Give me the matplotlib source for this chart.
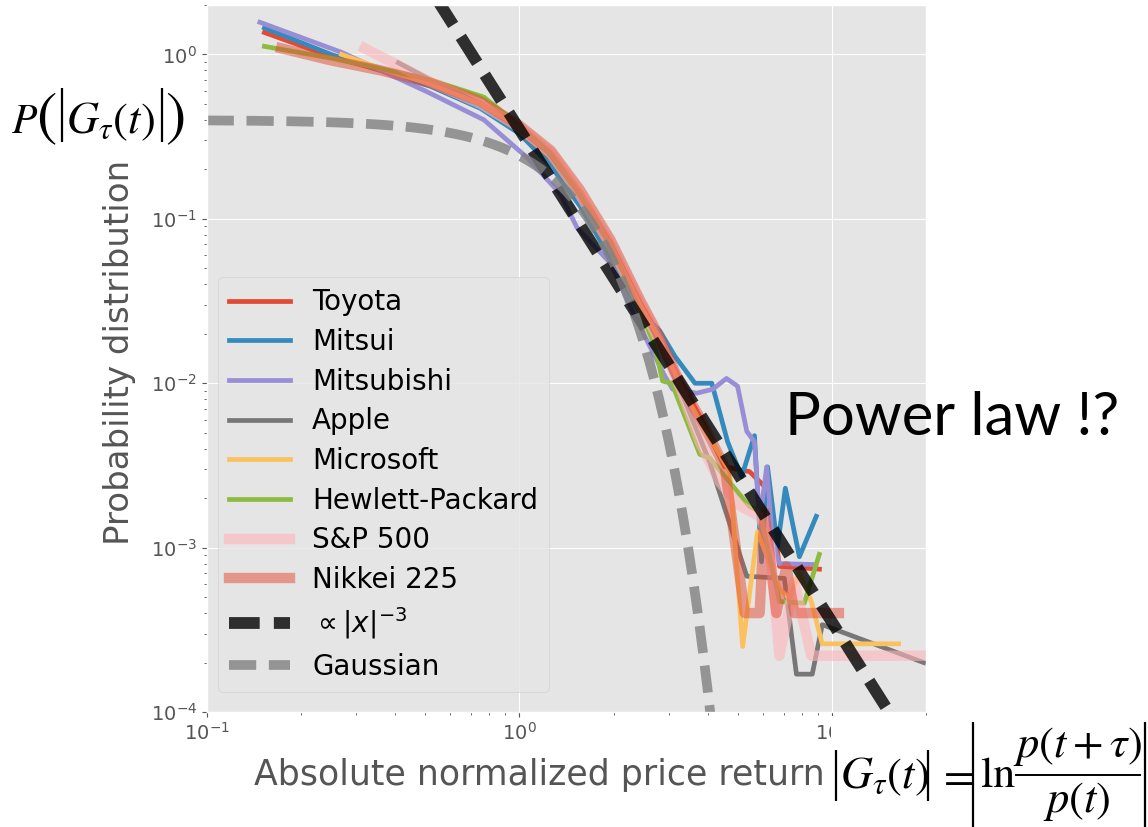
"""Return distributions of stocks and indices vs. power law and Gaussian."""
import matplotlib
matplotlib.use("Agg")
import matplotlib.pyplot as plt
from matplotlib.lines import Line2D
import numpy as np

# empirical distributions, one (x, P) pair of lists per asset
toyota_x = [0.153, 0.25, 0.36, 0.52, 0.75, 1.0, 1.26, 1.56, 1.95, 2.43, 2.81, 3.26, 3.77, 4.53, 5.44, 6.3, 6.78, 9.1]
toyota_y = [1.36, 0.97, 0.80, 0.66, 0.50, 0.36, 0.25, 0.145, 0.072, 0.031, 0.019, 0.0105, 0.0063, 0.0031, 0.0029, 0.0022, 0.00077, 0.00074]

mitsui_x = [0.153, 0.25, 0.36, 0.52, 0.75, 1.0, 1.26, 1.56, 1.95, 2.43, 2.81, 3.14, 3.64, 4.12, 4.63, 5.13, 5.64, 5.94, 6.21, 6.68, 7.08, 7.85, 8.89]
mitsui_y = [1.45, 1.0, 0.80, 0.64, 0.47, 0.33, 0.21, 0.12, 0.058, 0.027, 0.0208, 0.0146, 0.0100, 0.0100, 0.0044, 0.0027, 0.0048, 0.00082, 0.0031, 0.00101, 0.0023, 0.00088, 0.00155]

mitsubishi_x = [0.148, 0.27, 0.5, 0.77, 1.06, 1.35, 1.53, 1.95, 2.43, 2.92, 3.09, 3.69, 4.15, 4.59, 4.98, 5.33, 5.64, 5.86, 6.17, 6.44, 6.78, 8.63]
mitsubishi_y = [1.57, 1.03, 0.60, 0.40, 0.235, 0.142, 0.088, 0.054, 0.022, 0.011, 0.0092, 0.0087, 0.0092, 0.0107, 0.0096, 0.0051, 0.0044, 0.00144, 0.0031, 0.00109, 0.0008, 0.00079]

apple_x = [0.41, 0.52, 0.75, 1.0, 1.26, 1.56, 1.95, 2.43, 2.81, 3.38, 4.06, 5.33, 7.03, 7.68, 8.63, 9.29, 19.6]
apple_y = [0.89, 0.70, 0.50, 0.34, 0.23, 0.13, 0.063, 0.028, 0.0168, 0.0078, 0.0033, 0.00067, 0.00065, 0.00017, 0.00017, 0.00034, 0.0002]

microsoft_x = [0.27, 0.36, 0.52, 0.75, 1.0, 1.26, 1.56, 1.95, 2.43, 2.81, 3.26, 3.77, 4.70, 5.17, 5.77, 6.78, 7.30, 7.85, 8.57, 9.29, 16.3]
microsoft_y = [1.0, 0.82, 0.66, 0.50, 0.36, 0.25, 0.145, 0.07, 0.030, 0.0185, 0.0098, 0.0059, 0.0029, 0.00025, 0.00125, 0.00056, 0.00049, 0.00071, 0.00047, 0.00026, 0.00026]

hp_x = [0.153, 0.25, 0.36, 0.52, 0.77, 1.0, 1.26, 1.56, 1.95, 2.43, 2.71, 2.87, 3.07, 3.77, 4.06, 5.44, 5.86, 6.78, 8.14, 9.09]
hp_y = [1.12, 0.95, 0.82, 0.70, 0.55, 0.37, 0.25, 0.14, 0.07, 0.0275, 0.0168, 0.0103, 0.0100, 0.0037, 0.0035, 0.00178, 0.00166, 0.00047, 0.00046, 0.00091]

sp500_x = [0.32, 0.52, 0.75, 1.0, 1.26, 1.56, 1.95, 2.43, 2.81, 3.26, 3.77, 4.37, 5.06, 5.86, 6.3, 6.78, 7.57, 8.57, 19.6]
sp500_y = [1.09, 0.68, 0.50, 0.36, 0.25, 0.14, 0.07, 0.03, 0.018, 0.0095, 0.0044, 0.0025, 0.0018, 0.00155, 0.0011, 0.00022, 0.00062, 0.00022, 0.00022]

nikkei_x = [0.173, 0.25, 0.36, 0.52, 0.75, 1.0, 1.26, 1.56, 1.95, 2.43, 2.81, 3.26, 3.77, 4.53, 5.25, 5.86, 6.07, 6.63, 7.13, 7.57, 10.5]
nikkei_y = [1.09, 0.92, 0.80, 0.67, 0.52, 0.37, 0.26, 0.15, 0.075, 0.032, 0.019, 0.010, 0.0062, 0.0031, 0.0004, 0.0004, 0.00166, 0.0004, 0.00077, 0.0004, 0.0004]

# reference curves: P ~ C |x|^-3 and the standard normal density
POWER_COEF = 0.35
POWER_EXP = -3

W, H = 1148, 827

plt.style.use("ggplot")
plt.rcParams["font.family"] = ["DejaVu Sans"]

fig = plt.figure(figsize=(W / 100, H / 100), dpi=100)
ax = fig.add_axes([0.180, 0.139, 0.627, 0.855])

stocks = [
    ("Toyota", toyota_x, toyota_y, "#E24A33"),
    ("Mitsui", mitsui_x, mitsui_y, "#348ABD"),
    ("Mitsubishi", mitsubishi_x, mitsubishi_y, "#988ED5"),
    ("Apple", apple_x, apple_y, "#777777"),
    ("Microsoft", microsoft_x, microsoft_y, "#FBC15E"),
    ("Hewlett-Packard", hp_x, hp_y, "#8EBA42"),
]
for name, xs, ys, c in stocks:
    ax.plot(xs, ys, color=c, lw=3.4, label=name)

ax.plot(sp500_x, sp500_y, color="#FFB5B8", lw=7.5, alpha=0.6, label="S&P 500")
ax.plot(nikkei_x, nikkei_y, color="#E24A33", lw=7.5, alpha=0.5, label="Nikkei 225")

xx = np.logspace(-1, np.log10(20), 300)
ax.plot(xx, POWER_COEF * xx ** POWER_EXP, color="k", alpha=0.8, lw=8.5,
        dashes=(2.6, 1.2), label=r"$\propto |x|^{-3}$")
ax.plot(xx, np.exp(-xx ** 2 / 2) / np.sqrt(2 * np.pi), color="gray", alpha=0.8,
        lw=7, dashes=(2.8, 1.3), label="Gaussian")

ax.set_xscale("log")
ax.set_yscale("log")
ax.set_xlim(0.1, 20)
ax.set_ylim(1e-4, 2)
ax.tick_params(labelsize=14, colors="#555555")

leg = ax.legend(loc="lower left", bbox_to_anchor=(0.0153, 0.028), borderaxespad=0,
                fontsize=20, handlelength=2.2, labelspacing=0.42)
for t in leg.get_texts():
    t.set_color("black")

fig.text(120 / W, 1 - 352 / H, "Probability distribution", rotation=90,
         ha="center", va="center", fontsize=24.5, color="#555555")
fig.text(539 / W, 1 - 775 / H, "Absolute normalized price return",
         ha="center", va="center", fontsize=25, color="#555555")
fig.text(785 / W, 1 - 418 / H, "Power law !?", ha="left", va="center",
         fontsize=43, family="Lato", color="black")


# --- typeset formulas, placed in pixel units ------------------------------
def put(px, py, s, size=32, ha="left", va="baseline"):
    fig.text(px / W, 1 - py / H, s, ha=ha, va=va, fontsize=size,
             math_fontfamily="stix", zorder=6)


def vbar(px, py0, py1, lw=1.6):
    fig.add_artist(Line2D([px / W, px / W], [1 - py0 / H, 1 - py1 / H],
                          transform=fig.transFigure, color="black", lw=lw,
                          solid_capstyle="butt", zorder=6))


# P(|G_tau(t)|) next to the y axis
put(11, 133, r"$P$", size=30)
put(46, 117.5, r"$($", size=44, ha="center", va="center")
vbar(62, 88, 142)
put(66, 133, r"$G_{\tau}(t)$")
vbar(162, 88, 142)
put(175, 117.5, r"$)$", size=44, ha="center", va="center")

# |G_tau(t)| = |ln p(t+tau)/p(t)| under the right end of the x axis
fig.patches.append(plt.Rectangle((831 / W, 0), 1 - 831 / W, 1 - 716 / H,
                                 transform=fig.transFigure, facecolor="white",
                                 edgecolor="none", zorder=5))
vbar(836, 750, 801)
put(840, 788, r"$G_{\tau}(t)$")
vbar(928, 750, 801)
put(937, 788, r"$=$")
vbar(973, 722, 827)
put(980, 787, r"$\mathrm{ln}$")
put(1078, 757, r"$p(t+\tau)$", ha="center")
fig.add_artist(Line2D([1016 / W, 1140 / W], [1 - 775 / H, 1 - 775 / H],
                      transform=fig.transFigure, color="black", lw=1.4, zorder=6))
put(1077, 812, r"$p(t)$", ha="center")
vbar(1145, 722, 827)

fig.savefig("out.png", dpi=100)
